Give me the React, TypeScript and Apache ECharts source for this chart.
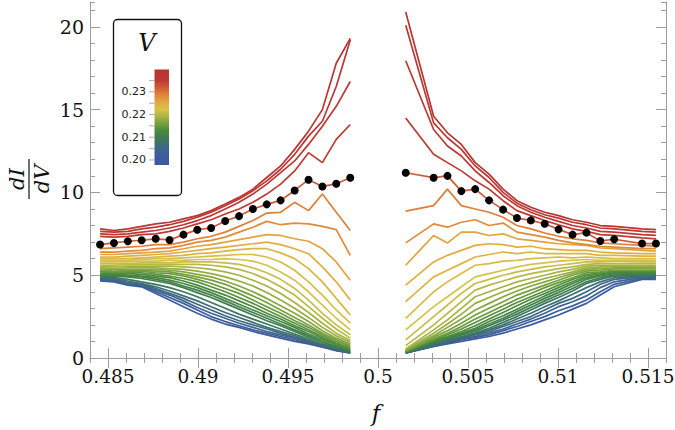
import React, { useEffect, useRef } from 'react';
import * as echarts from 'echarts';

// x positions (f) of the samples
const fLeft = [0.48456, 0.48533, 0.4861, 0.48687, 0.48765, 0.48842, 0.48919, 0.48996, 0.49073, 0.49151, 0.49228, 0.49305, 0.49382, 0.49459, 0.49537, 0.49614, 0.49691, 0.49768, 0.49846];
const fRight = [0.50154, 0.50309, 0.50386, 0.50463, 0.5054, 0.50617, 0.50695, 0.50772, 0.50849, 0.50926, 0.51003, 0.51081, 0.51158, 0.51235, 0.51312, 0.51467, 0.51544];

// bias V of each curve (top to bottom)
const vLevels = [0.238, 0.237, 0.236, 0.235, 0.232, 0.229, 0.228, 0.226, 0.225, 0.224, 0.223, 0.222, 0.221, 0.22, 0.219, 0.218, 0.217, 0.216, 0.215, 0.214, 0.213, 0.212, 0.211, 0.21, 0.2085, 0.207, 0.2055, 0.204, 0.2025, 0.201];
const DOT_INDEX = 4; // curve drawn with black markers

// dI/dV, left branch (f < 0.5)
const dIdVLeft = [
  [7.8, 7.7, 7.8, 7.95, 8.1, 8.2, 8.4, 8.6, 8.9, 9.3, 9.7, 10.2, 10.9, 11.6, 12.6, 13.7, 15.0, 17.8, 19.3],
  [7.65, 7.6, 7.65, 7.8, 7.9, 8.05, 8.25, 8.5, 8.8, 9.2, 9.6, 10.1, 10.7, 11.4, 12.3, 13.4, 14.3, 16.4, 19.2],
  [7.5, 7.45, 7.5, 7.6, 7.7, 7.85, 8.05, 8.3, 8.6, 9.0, 9.4, 9.9, 10.5, 11.2, 11.9, 12.9, 14.0, 15.2, 16.7],
  [7.35, 7.3, 7.35, 7.45, 7.5, 7.65, 7.85, 8.1, 8.35, 8.7, 9.0, 9.4, 9.9, 10.5, 11.3, 12.4, 11.8, 13.2, 14.1],
  [6.85, 6.95, 7.05, 7.11, 7.2, 7.13, 7.45, 7.75, 7.85, 8.27, 8.57, 9.0, 9.28, 9.52, 10.12, 10.77, 10.36, 10.52, 10.89],
  [6.6, 6.65, 6.7, 6.75, 6.85, 6.85, 7.0, 7.2, 7.35, 7.6, 7.95, 8.3, 8.75, 8.8, 9.4, 8.9, 9.9, 8.8, 7.7],
  [6.4, 6.4, 6.45, 6.5, 6.6, 6.65, 6.8, 7.0, 7.1, 7.3, 7.6, 7.9, 8.25, 8.05, 8.15, 8.1, 7.95, 7.75, 6.2],
  [6.25, 6.25, 6.3, 6.35, 6.4, 6.45, 6.6, 6.75, 6.85, 7.0, 7.15, 7.3, 7.45, 7.4, 7.2, 7.05, 6.6, 5.8, 4.7],
  [6.1, 6.1, 6.15, 6.2, 6.25, 6.3, 6.4, 6.5, 6.6, 6.7, 6.8, 6.9, 7.0, 6.85, 6.6, 6.3, 5.5, 4.6, 3.5],
  [6.0, 6.0, 6.0, 6.05, 6.1, 6.15, 6.2, 6.3, 6.35, 6.45, 6.55, 6.6, 6.6, 6.35, 6.0, 5.4, 4.6, 3.6, 2.6],
  [5.9, 5.9, 5.9, 5.95, 6.0, 6.0, 6.05, 6.1, 6.15, 6.2, 6.25, 6.25, 6.1, 5.8, 5.3, 4.6, 3.8, 2.9, 2.1],
  [5.8, 5.8, 5.8, 5.85, 5.85, 5.9, 5.9, 5.95, 5.95, 6.0, 5.95, 5.85, 5.6, 5.2, 4.7, 4.0, 3.2, 2.4, 1.7],
  [5.7, 5.7, 5.7, 5.75, 5.75, 5.75, 5.8, 5.8, 5.8, 5.75, 5.65, 5.45, 5.15, 4.75, 4.2, 3.5, 2.7, 2.0, 1.4],
  [5.6, 5.6, 5.65, 5.65, 5.65, 5.65, 5.65, 5.65, 5.6, 5.5, 5.35, 5.1, 4.75, 4.3, 3.8, 3.1, 2.4, 1.75, 1.2],
  [5.5, 5.5, 5.55, 5.55, 5.55, 5.55, 5.5, 5.45, 5.35, 5.2, 5.0, 4.7, 4.35, 3.9, 3.35, 2.75, 2.1, 1.5, 1.05],
  [5.45, 5.4, 5.45, 5.45, 5.45, 5.4, 5.35, 5.25, 5.1, 4.9, 4.65, 4.35, 3.95, 3.5, 3.0, 2.45, 1.85, 1.35, 0.95],
  [5.4, 5.35, 5.35, 5.35, 5.35, 5.3, 5.2, 5.05, 4.9, 4.65, 4.35, 4.0, 3.6, 3.15, 2.7, 2.2, 1.65, 1.2, 0.85],
  [5.3, 5.25, 5.3, 5.3, 5.25, 5.2, 5.05, 4.9, 4.7, 4.45, 4.1, 3.75, 3.35, 2.9, 2.45, 2.0, 1.5, 1.1, 0.75],
  [5.25, 5.2, 5.2, 5.25, 5.15, 5.1, 4.95, 4.75, 4.5, 4.2, 3.9, 3.5, 3.1, 2.7, 2.25, 1.85, 1.4, 1.0, 0.7],
  [5.2, 5.15, 5.15, 5.15, 5.05, 4.95, 4.8, 4.6, 4.3, 4.0, 3.65, 3.3, 2.9, 2.5, 2.1, 1.7, 1.3, 0.9, 0.6],
  [5.1, 5.1, 5.1, 5.05, 4.95, 4.85, 4.65, 4.4, 4.1, 3.8, 3.45, 3.1, 2.7, 2.35, 1.95, 1.6, 1.2, 0.85, 0.55],
  [5.05, 5.05, 5.0, 4.95, 4.85, 4.7, 4.5, 4.25, 3.95, 3.6, 3.25, 2.9, 2.55, 2.2, 1.85, 1.45, 1.1, 0.8, 0.5],
  [5.0, 5.0, 4.95, 4.9, 4.75, 4.6, 4.35, 4.1, 3.8, 3.45, 3.1, 2.75, 2.4, 2.05, 1.7, 1.35, 1.0, 0.7, 0.45],
  [4.95, 4.95, 4.9, 4.8, 4.65, 4.5, 4.25, 3.95, 3.65, 3.3, 2.95, 2.6, 2.25, 1.95, 1.6, 1.25, 0.95, 0.65, 0.4],
  [4.9, 4.85, 4.75, 4.6, 4.45, 4.25, 4.0, 3.7, 3.35, 3.0, 2.65, 2.35, 2.05, 1.75, 1.45, 1.15, 0.85, 0.6, 0.4],
  [4.85, 4.8, 4.65, 4.5, 4.3, 4.05, 3.75, 3.45, 3.1, 2.75, 2.45, 2.15, 1.85, 1.6, 1.35, 1.05, 0.8, 0.55, 0.35],
  [4.8, 4.75, 4.55, 4.45, 4.2, 3.9, 3.6, 3.25, 2.9, 2.55, 2.25, 2.0, 1.75, 1.5, 1.25, 1.0, 0.75, 0.5, 0.35],
  [4.75, 4.7, 4.5, 4.4, 4.1, 3.8, 3.45, 3.05, 2.7, 2.4, 2.1, 1.85, 1.6, 1.4, 1.2, 0.95, 0.7, 0.5, 0.3],
  [4.7, 4.65, 4.45, 4.35, 4.0, 3.65, 3.3, 2.9, 2.5, 2.2, 1.95, 1.7, 1.5, 1.3, 1.1, 0.9, 0.7, 0.45, 0.3],
  [4.65, 4.6, 4.4, 4.3, 3.9, 3.5, 3.1, 2.7, 2.35, 2.05, 1.85, 1.6, 1.4, 1.2, 1.0, 0.85, 0.65, 0.45, 0.3],
];

// dI/dV, right branch (f > 0.5)
const dIdVRight = [
  [20.9, 14.6, 13.6, 12.9, 11.8, 11.1, 10.2, 9.5, 9.1, 8.8, 8.6, 8.35, 8.2, 8.0, 7.95, 7.8, 7.75],
  [20.1, 14.2, 13.3, 12.6, 11.6, 10.9, 10.0, 9.35, 8.95, 8.65, 8.45, 8.2, 8.05, 7.85, 7.8, 7.65, 7.6],
  [17.95, 13.8, 12.8, 12.2, 11.3, 10.6, 9.8, 9.2, 8.8, 8.5, 8.25, 8.0, 7.85, 7.65, 7.6, 7.45, 7.4],
  [14.5, 12.3, 11.8, 11.3, 10.7, 10.2, 9.5, 8.9, 8.6, 8.3, 8.05, 7.8, 7.65, 7.45, 7.4, 7.25, 7.2],
  [11.19, 10.89, 11.0, 10.08, 10.2, 9.52, 8.96, 8.45, 8.31, 8.11, 7.77, 7.45, 7.57, 7.07, 7.17, 6.91, 6.91],
  [8.87, 9.2, 10.2, 9.2, 9.0, 8.8, 8.5, 8.0, 7.8, 7.55, 7.35, 7.2, 7.1, 6.95, 6.9, 6.8, 6.75],
  [6.95, 8.1, 7.9, 8.2, 8.35, 8.0, 8.15, 7.6, 7.45, 7.3, 7.1, 6.95, 6.85, 6.75, 6.7, 6.6, 6.6],
  [5.6, 7.4, 6.95, 7.6, 7.6, 7.4, 7.5, 7.2, 7.1, 7.0, 6.9, 6.85, 6.8, 6.65, 6.6, 6.5, 6.45],
  [4.4, 5.8, 6.2, 6.5, 6.8, 6.9, 6.85, 6.7, 6.75, 6.6, 6.55, 6.5, 6.5, 6.4, 6.35, 6.3, 6.3],
  [3.4, 4.9, 5.3, 5.7, 6.1, 6.25, 6.4, 6.3, 6.4, 6.3, 6.3, 6.3, 6.3, 6.2, 6.2, 6.15, 6.15],
  [2.4, 4.0, 4.6, 5.1, 5.6, 5.7, 5.85, 5.9, 6.0, 6.05, 6.1, 6.05, 6.1, 6.05, 6.0, 6.0, 6.0],
  [1.7, 3.1, 3.7, 4.3, 4.9, 5.1, 5.3, 5.5, 5.65, 5.75, 5.85, 5.9, 5.95, 5.9, 5.9, 5.9, 5.9],
  [1.1, 2.5, 3.2, 3.9, 4.5, 4.75, 5.0, 5.2, 5.35, 5.5, 5.6, 5.7, 5.8, 5.8, 5.85, 5.8, 5.8],
  [0.75, 2.0, 2.7, 3.4, 4.1, 4.4, 4.65, 4.9, 5.1, 5.25, 5.4, 5.5, 5.65, 5.7, 5.7, 5.7, 5.7],
  [0.55, 1.7, 2.3, 3.0, 3.7, 4.0, 4.3, 4.6, 4.8, 5.0, 5.2, 5.35, 5.55, 5.6, 5.6, 5.6, 5.6],
  [0.5, 1.5, 2.05, 2.65, 3.3, 3.65, 4.0, 4.3, 4.55, 4.8, 5.0, 5.2, 5.45, 5.5, 5.55, 5.5, 5.5],
  [0.45, 1.35, 1.85, 2.35, 2.9, 3.3, 3.7, 4.05, 4.35, 4.6, 4.85, 5.1, 5.35, 5.4, 5.45, 5.45, 5.45],
  [0.45, 1.25, 1.65, 2.1, 2.6, 3.0, 3.4, 3.8, 4.1, 4.4, 4.7, 5.0, 5.25, 5.3, 5.4, 5.4, 5.4],
  [0.4, 1.15, 1.5, 1.9, 2.35, 2.75, 3.15, 3.55, 3.9, 4.25, 4.55, 4.85, 5.15, 5.2, 5.3, 5.3, 5.3],
  [0.4, 1.1, 1.4, 1.75, 2.15, 2.55, 2.95, 3.35, 3.7, 4.05, 4.4, 4.75, 5.05, 5.15, 5.25, 5.25, 5.25],
  [0.4, 1.05, 1.3, 1.6, 1.95, 2.35, 2.75, 3.15, 3.55, 3.9, 4.25, 4.6, 4.95, 5.1, 5.2, 5.2, 5.2],
  [0.35, 1.0, 1.25, 1.5, 1.8, 2.2, 2.55, 2.95, 3.35, 3.75, 4.1, 4.5, 4.85, 5.0, 5.15, 5.15, 5.15],
  [0.35, 0.95, 1.2, 1.45, 1.7, 2.05, 2.4, 2.8, 3.2, 3.6, 3.95, 4.35, 4.75, 4.95, 5.1, 5.1, 5.1],
  [0.35, 0.9, 1.15, 1.4, 1.6, 1.95, 2.3, 2.65, 3.05, 3.45, 3.8, 4.2, 4.6, 4.85, 5.0, 5.05, 5.05],
  [0.35, 0.85, 1.1, 1.3, 1.5, 1.8, 2.15, 2.5, 2.9, 3.3, 3.65, 4.05, 4.5, 4.75, 4.95, 5.0, 5.0],
  [0.3, 0.8, 1.05, 1.25, 1.45, 1.7, 2.0, 2.35, 2.7, 3.1, 3.45, 3.85, 4.25, 4.6, 4.85, 4.95, 4.95],
  [0.3, 0.75, 1.0, 1.2, 1.4, 1.6, 1.9, 2.2, 2.5, 2.9, 3.3, 3.6, 4.0, 4.45, 4.75, 4.9, 4.9],
  [0.3, 0.75, 0.95, 1.15, 1.3, 1.5, 1.75, 2.05, 2.35, 2.7, 3.1, 3.4, 3.75, 4.25, 4.6, 4.85, 4.85],
  [0.3, 0.7, 0.9, 1.1, 1.25, 1.4, 1.65, 1.9, 2.2, 2.5, 2.85, 3.15, 3.5, 4.0, 4.45, 4.8, 4.8],
  [0.3, 0.7, 0.85, 1.0, 1.15, 1.3, 1.5, 1.75, 2.0, 2.3, 2.6, 2.95, 3.3, 3.8, 4.3, 4.75, 4.75],
];

// axis ticks
const xMajorTicks = [0.485, 0.49, 0.495, 0.5, 0.505, 0.51, 0.515];
const yMajorTicks = [0, 5, 10, 15, 20];
const colorbarLabels = [0.2, 0.21, 0.22, 0.23];
const colorbarTicks = [0.2, 0.205, 0.21, 0.215, 0.22, 0.225, 0.23, 0.235];

// colour scale (styling)
const cmap: [number, string][] = [
  [0.198, '#3b57a6'], [0.203, '#3e5f9a'], [0.207, '#3e6f74'], [0.21, '#3e7c4e'],
  [0.213, '#4a8a3e'], [0.216, '#76a03d'], [0.219, '#a7b443'], [0.222, '#d5c34a'],
  [0.2255, '#e2a93f'], [0.229, '#df7f38'], [0.232, '#d05a36'], [0.235, '#bd3a34'], [0.24, '#b53232'],
];
const V_MIN = 0.1978, V_MAX = 0.2398;

function hex(h: string) { return [parseInt(h.slice(1, 3), 16), parseInt(h.slice(3, 5), 16), parseInt(h.slice(5, 7), 16)]; }
function vColor(v: number) {
  if (v <= cmap[0][0]) return cmap[0][1];
  for (let i = 1; i < cmap.length; i++) {
    if (v <= cmap[i][0]) {
      const t = (v - cmap[i - 1][0]) / (cmap[i][0] - cmap[i - 1][0]);
      const a = hex(cmap[i - 1][1]), b = hex(cmap[i][1]);
      const c = a.map((x, k) => Math.round(x + (b[k] - x) * t));
      return `rgb(${c[0]},${c[1]},${c[2]})`;
    }
  }
  return cmap[cmap.length - 1][1];
}

const SERIF = 'DejaVu Serif';
const FRAME = '#9c9c9c';

export default function App() {
  const ref = useRef<HTMLDivElement>(null);
  useEffect(() => {
    const chart = echarts.init(ref.current!, null, { renderer: 'svg' });
    const series: any[] = [];
    const order = vLevels.map((_, i) => i).reverse();
    order.forEach((i) => {
      if (i === DOT_INDEX) return;
      const color = vColor(vLevels[i]);
      [[fLeft, dIdVLeft[i]], [fRight, dIdVRight[i]]].forEach(([xs, ys]: any) => {
        series.push({
          type: 'line', xAxisIndex: 0, yAxisIndex: 0, silent: true, symbol: 'none', z: 2,
          data: xs.map((x: number, k: number) => [x, ys[k]]),
          lineStyle: { color, width: 1.7 },
        });
      });
    });
    [[fLeft, dIdVLeft[DOT_INDEX]], [fRight, dIdVRight[DOT_INDEX]]].forEach(([xs, ys]: any) => {
      series.push({
        type: 'line', xAxisIndex: 0, yAxisIndex: 0, silent: true, z: 5,
        symbol: 'circle', symbolSize: 8, showSymbol: true,
        data: xs.map((x: number, k: number) => [x, ys[k]]),
        lineStyle: { color: vColor(vLevels[DOT_INDEX]), width: 1.7 },
        itemStyle: { color: '#000', borderWidth: 0 },
      });
    });

    const xBase = { type: 'value', min: 0.484, max: 0.516, gridIndex: 0, splitLine: { show: false } };
    const yBase = { type: 'value', min: 0, max: 21.5, gridIndex: 0, splitLine: { show: false } };
    const tickStyle = { color: FRAME, width: 1 };

    const barTop = 69.5, barBottom = 165, barX = 154.5, barW = 14.5;
    const vToY = (v: number) => barBottom - (v - V_MIN) / (V_MAX - V_MIN) * (barBottom - barTop);
    const gradStops = cmap.filter(([v]) => v >= V_MIN - 0.001 && v <= V_MAX + 0.001)
      .map(([v, c]) => ({ offset: Math.min(1, Math.max(0, (v - V_MIN) / (V_MAX - V_MIN))), color: c }));

    const graphic: any[] = [
      { type: 'rect', z: 20, shape: { x: 113.5, y: 19.5, width: 68, height: 176, r: 4 }, style: { fill: '#fff', stroke: '#111', lineWidth: 1.3 } },
      { type: 'text', z: 21, style: { text: 'V', x: 147, y: 43, fontStyle: 'italic', fontSize: 24, fontFamily: SERIF, fill: '#111', align: 'center', verticalAlign: 'middle' } },
      { type: 'rect', z: 21, shape: { x: barX, y: barTop, width: barW, height: barBottom - barTop }, style: { fill: new echarts.graphic.LinearGradient(0, 1, 0, 0, gradStops), stroke: null } },
      ...colorbarTicks.map((v) => ({ type: 'line', z: 21, shape: { x1: 149, y1: vToY(v), x2: barX, y2: vToY(v) }, style: { stroke: '#aaa', lineWidth: 1 } })),
      ...colorbarLabels.map((v) => ({ type: 'text', z: 21, style: { text: v.toFixed(2), x: 146, y: vToY(v), fontSize: 11, fontFamily: 'DejaVu Sans', fill: '#222', align: 'right', verticalAlign: 'middle' } })),
      {
        type: 'group', x: 29, y: 179, rotation: Math.PI / 2, z: 20,
        children: [
          { type: 'text', style: { text: 'dI', x: 0, y: -12, fontStyle: 'italic', fontSize: 21, fontFamily: SERIF, fill: '#111', align: 'center', verticalAlign: 'middle' } },
          { type: 'line', shape: { x1: -20, y1: 0, x2: 20, y2: 0 }, style: { stroke: '#111', lineWidth: 1.2 } },
          { type: 'text', style: { text: 'dV', x: 0, y: 13, fontStyle: 'italic', fontSize: 21, fontFamily: SERIF, fill: '#111', align: 'center', verticalAlign: 'middle' } },
        ],
      },
      { type: 'text', z: 21, style: { text: 'f', x: 376, y: 413, fontStyle: 'italic', fontSize: 23, fontFamily: SERIF, fill: '#111', align: 'center', verticalAlign: 'middle' } },
    ];

    chart.setOption({
      animation: false,
      backgroundColor: '#fff',
      textStyle: { fontFamily: SERIF },
      grid: { left: 90, right: 9, top: 2, bottom: 72, containLabel: false, outerBoundsMode: 'none' },
      xAxis: [
        {
          ...xBase, position: 'bottom',
          axisLine: { show: true, lineStyle: { color: FRAME, width: 1 } },
          axisTick: { show: true, inside: true, length: 10, customValues: xMajorTicks, lineStyle: tickStyle },
          axisLabel: { show: true, customValues: xMajorTicks, formatter: (v: number) => String(+v.toFixed(3)), margin: 9, fontFamily: SERIF, fontSize: 18.5, color: '#111' },
        },
        { ...xBase, position: 'bottom', interval: 0.001, axisLine: { show: false }, axisLabel: { show: false }, axisTick: { show: true, inside: true, length: 5, lineStyle: tickStyle } },
        {
          ...xBase, position: 'top',
          axisLine: { show: true, lineStyle: { color: FRAME, width: 1 } },
          axisTick: { show: true, inside: true, length: 10, customValues: xMajorTicks, lineStyle: tickStyle },
          axisLabel: { show: false },
        },
        { ...xBase, position: 'top', interval: 0.001, axisLine: { show: false }, axisLabel: { show: false }, axisTick: { show: true, inside: true, length: 5, lineStyle: tickStyle } },
      ],
      yAxis: [
        {
          ...yBase, position: 'left',
          axisLine: { show: true, lineStyle: { color: FRAME, width: 1 } },
          axisTick: { show: true, inside: true, length: 10, customValues: yMajorTicks, lineStyle: tickStyle },
          axisLabel: { show: true, customValues: yMajorTicks, margin: 6, fontFamily: SERIF, fontSize: 19, color: '#111' },
        },
        { ...yBase, position: 'left', interval: 1, axisLine: { show: false }, axisLabel: { show: false }, axisTick: { show: true, inside: true, length: 5, lineStyle: tickStyle } },
        {
          ...yBase, position: 'right',
          axisLine: { show: true, lineStyle: { color: FRAME, width: 1 } },
          axisTick: { show: true, inside: true, length: 10, customValues: yMajorTicks, lineStyle: tickStyle },
          axisLabel: { show: false },
        },
        { ...yBase, position: 'right', interval: 1, axisLine: { show: false }, axisLabel: { show: false }, axisTick: { show: true, inside: true, length: 5, lineStyle: tickStyle } },
      ],
      series,
      graphic,
    });
    return () => chart.dispose();
  }, []);
  return <div ref={ref} style={{ position: 'fixed', left: 0, top: 0, width: 675, height: 430 }} />;
}
